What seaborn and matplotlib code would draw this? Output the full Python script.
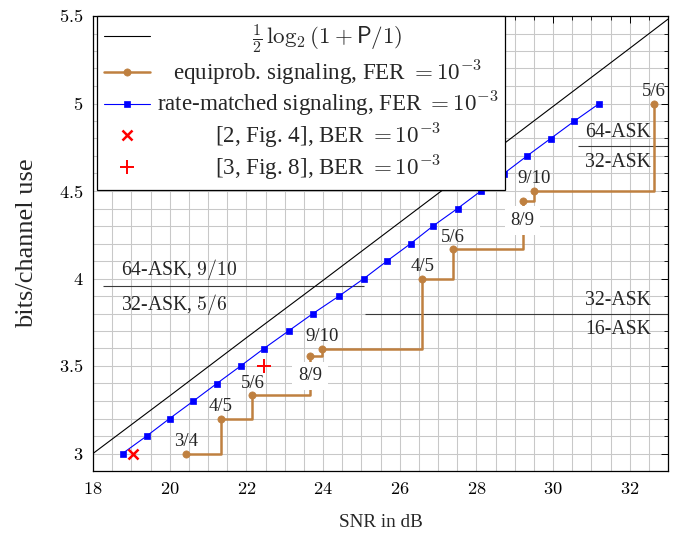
import matplotlib
matplotlib.use("Agg")
import matplotlib.pyplot as plt
import seaborn as sns
from matplotlib.ticker import MultipleLocator, FuncFormatter

# AWGN capacity 1/2 log2(1+P)
snr_awgn = [18, 20, 22, 24, 26, 28, 30, 32, 33]
cap_awgn = [3.000, 3.329, 3.661, 3.989, 4.320, 4.651, 4.983, 5.315, 5.482]

# equiprobable ASK with fixed code rates (FER 1e-3)
snr_eq = [20.43, 21.34, 22.16, 23.66, 23.97, 26.59, 27.39, 29.21, 29.51, 32.64]
rate_eq = [3.0, 3.2, 3.333, 3.556, 3.6, 4.0, 4.167, 4.444, 4.5, 5.0]
code_rates = ["3/4", "4/5", "5/6", "8/9", "9/10", "4/5", "5/6", "8/9", "9/10", "5/6"]
rate_label_side = ["above", "above", "above", "below", "above",
                   "above", "above", "below", "above", "above"]

# rate-matched signaling (FER 1e-3)
snr_rm = [18.77, 19.40, 20.00, 20.62, 21.23, 21.85, 22.46, 23.10, 23.74, 24.42,
          25.07, 25.67, 26.29, 26.87, 27.51, 28.12, 28.72, 29.32, 29.94, 30.56, 31.21]
rate_rm = [3.0, 3.1, 3.2, 3.3, 3.4, 3.5, 3.6, 3.7, 3.8, 3.9,
           4.0, 4.1, 4.2, 4.3, 4.4, 4.5, 4.6, 4.7, 4.8, 4.9, 5.0]

# reference results (BER 1e-3)
ref2_snr, ref2_rate = [19.04], [3.0]
ref3_snr, ref3_rate = [22.46], [3.5]

# constellation switching lines
sep_y = [3.96, 3.80, 4.76]
sep_x0 = [18.27, 25.10, 30.64]
sep_x1 = [25.07, 33.0, 33.0]
region_texts = ["64-ASK, $9/10$", "32-ASK, $5/6$", "64-ASK", "32-ASK", "32-ASK", "16-ASK"]
region_x = [18.73, 18.73, 32.55, 32.55, 32.55, 32.55]
region_y = [4.02, 3.82, 4.81, 4.64, 3.85, 3.68]
region_ha = ["left", "left", "right", "right", "right", "right"]

BROWN = "#bf8040"
BLUE = "#0000ff"
RED = "#ff0000"
FS = 13.5

sns.set_theme(style="white")
plt.rcParams["font.family"] = ["Liberation Serif", "DejaVu Serif"]
plt.rcParams["mathtext.fontset"] = "cm"
plt.rcParams.update({
    "font.size": FS, "axes.labelsize": FS, "xtick.labelsize": 13.2,
    "ytick.labelsize": 13.2, "legend.fontsize": 16.6,
})

fig = plt.figure(figsize=(6.94, 5.44), dpi=100)
ax = fig.add_axes([93 / 694, 73 / 544, 575 / 694, 455 / 544])

sns.lineplot(x=snr_awgn, y=cap_awgn, ax=ax, color="black", lw=0.8,
             label=r"$\frac{1}{2}\,\log_2(1+\mathsf{P}/1)$", zorder=3)
sns.lineplot(x=snr_eq, y=rate_eq, ax=ax, color=BROWN, lw=1.8, drawstyle="steps-post",
             marker="o", ms=5.2, mec=BROWN, mfc=BROWN, mew=0.5, sort=False,
             label=r"equiprob. signaling, FER $= 10^{-3}$", zorder=3)
sns.lineplot(x=snr_rm, y=rate_rm, ax=ax, color=BLUE, lw=0.8,
             marker="s", ms=5, mec=BLUE, mfc=BLUE, mew=0.5, sort=False,
             label=r"rate-matched signaling, FER $= 10^{-3}$", zorder=3)
sns.lineplot(x=ref2_snr, y=ref2_rate, ax=ax, color=RED, linestyle="none",
             marker="x", ms=6.5, mec=RED, mew=1.8,
             label=r"[2, Fig. 4], BER $= 10^{-3}$", zorder=4)
sns.lineplot(x=ref3_snr, y=ref3_rate, ax=ax, color=RED, linestyle="none",
             marker="+", ms=10, mec=RED, mew=1.4,
             label=r"[3, Fig. 8], BER $= 10^{-3}$", zorder=4)

ax.hlines(sep_y, sep_x0, sep_x1, colors="#3a3a3a", lw=0.8, zorder=2.5)
for t, x, y, ha in zip(region_texts, region_x, region_y, region_ha):
    ax.text(x, y, t, ha=ha, va="baseline", fontsize=14.2, zorder=5)

for x, y, t, side in zip(snr_eq, rate_eq, code_rates, rate_label_side):
    if side == "above":
        ax.annotate(t, (x, y), xytext=(0, 5.5), textcoords="offset points",
                    ha="center", va="baseline", zorder=6)
    else:
        ax.annotate(t, (x, y), xytext=(0, -8), textcoords="offset points",
                    ha="center", va="top", zorder=6,
                    bbox=dict(boxstyle="square,pad=0.3", fc="white", ec="none"))

ax.set_xlim(18, 33)
ax.set_ylim(2.9, 5.5)
ax.xaxis.set_major_locator(MultipleLocator(2))
ax.xaxis.set_minor_locator(MultipleLocator(0.5))
ax.yaxis.set_major_locator(MultipleLocator(0.5))
ax.yaxis.set_minor_locator(MultipleLocator(0.1))
fmt = FuncFormatter(lambda v, p: f"${v:g}$")
ax.xaxis.set_major_formatter(fmt)
ax.yaxis.set_major_formatter(fmt)
ax.grid(which="both", color="#c8c8c8", lw=0.75)
ax.set_axisbelow(True)
ax.tick_params(which="both", direction="in", top=True, right=True, colors="black")
ax.tick_params(which="major", length=5, width=0.7, pad=7)
ax.tick_params(which="minor", length=3, width=0.6)
for s in ax.spines.values():
    s.set_color("black")
    s.set_linewidth(0.9)

ax.set_xlabel("SNR in dB", fontsize=13.8, labelpad=12)
ax.set_ylabel("bits/channel use", fontsize=19, labelpad=15)

leg = ax.legend(loc="upper left", bbox_to_anchor=(4 / 575, 1.0), borderaxespad=0,
                fancybox=False, framealpha=1, edgecolor="black",
                handlelength=2.0, handletextpad=0.3, labelspacing=0.1, borderpad=0.3)
leg.get_frame().set_linewidth(0.9)
leg.set_zorder(10)

# center the legend entries within the text column
fig.canvas.draw()
renderer = fig.canvas.get_renderer()
texts = leg.get_texts()
widths = [t.get_window_extent(renderer).width for t in texts]
wmax = max(widths)
for t, w in zip(texts, widths):
    t.set_position(((wmax - w) / 2, 0))

fig.savefig("out.png", dpi=100)
